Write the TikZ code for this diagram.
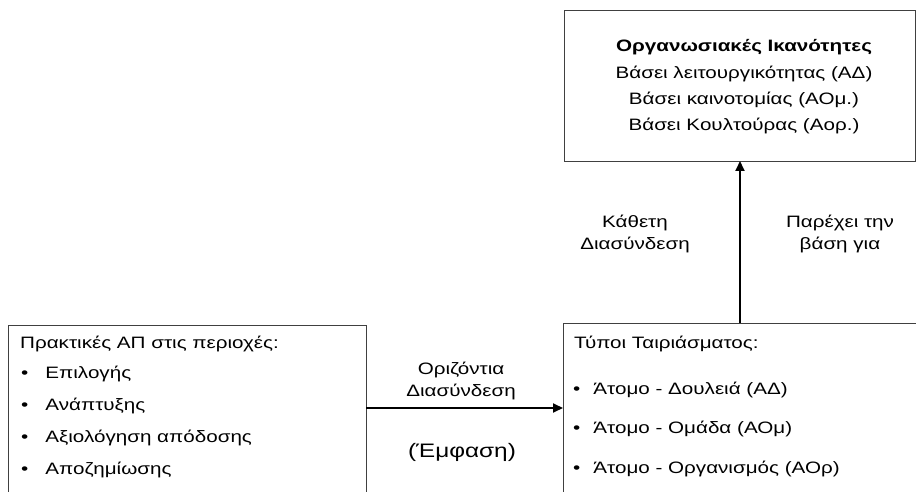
\documentclass[tikz,border=0pt]{standalone}
\usepackage{fontspec}
\setmainfont{Liberation Sans}[FakeStretch=1.25]
\usetikzlibrary{arrows.meta}
\begin{document}
\begin{tikzpicture}[x=1pt,y=-1pt,
  box/.style={draw=black!75,line width=1.2pt},
  conn/.style={line width=1.8pt,-{Triangle[length=10pt,width=9pt]}},
  txt/.style={font=\fontsize{16.5}{18}\selectfont,inner sep=0pt},
  lbl/.style={font=\fontsize{16.5}{22}\selectfont,align=center,inner sep=0pt},
  bul/.style={font=\fontsize{16.5}{18}\selectfont,inner sep=0pt,anchor=base west}]
\useasboundingbox (0,0) rectangle (916,492);
\clip (0,0) rectangle (916,492);
% top box
\node[box,minimum width=351pt,minimum height=151pt,anchor=north west,inner sep=0pt] (top) at (564,10) {};
\node[txt,align=center,font=\fontsize{16.5}{26.3}\selectfont] (toptxt) at (744,87)
 {\textbf{Οργανωσιακές Ικανότητες}\\Βάσει λειτουργικότητας (ΑΔ)\\Βάσει καινοτομίας (ΑΟμ.)\\Βάσει Κουλτούρας (Αορ.)};
% left box
\node[box,minimum width=358pt,minimum height=200pt,anchor=north west,inner sep=0pt] (left) at (8,325) {};
\node[bul] (l0) at (20,348) {Πρακτικές ΑΠ στις περιοχές:};
\node[bul] (l1) at (21,378) {•\hspace{17pt}Επιλογής};
\node[bul] (l2) at (21,410) {•\hspace{17pt}Ανάπτυξης};
\node[bul] (l3) at (21,442) {•\hspace{17pt}Αξιολόγηση απόδοσης};
\node[bul] (l4) at (21,474) {•\hspace{17pt}Αποζημίωσης};
% right box
\node[box,minimum width=355pt,minimum height=200pt,anchor=north west,inner sep=0pt] (right) at (563,323) {};
\node[bul] (r0) at (574,348) {Τύποι Ταιριάσματος:};
\node[bul] (r1) at (573,394) {•\hspace{13pt}Άτομο - Δουλειά (ΑΔ)};
\node[bul] (r2) at (573,433) {•\hspace{13pt}Άτομο - Ομάδα (ΑΟμ)};
\node[bul] (r3) at (573,473) {•\hspace{13pt}Άτομο - Οργανισμός (ΑΟρ)};
% connectors
\coordinate (hs) at (366,408);
\coordinate (he) at (563,408);
\draw[conn] (hs) -- (he);
\coordinate (vs) at (740,323);
\draw[conn] (vs) -- (740,161);
% labels
\node[lbl] (hl) at (461,381) {Οριζόντια\\Διασύνδεση};
\node[lbl,font=\fontsize{19.5}{22}\selectfont] (em) at (462,452) {(Έμφαση)};
\node[lbl] (vl1) at (635,234) {Κάθετη\\Διασύνδεση};
\node[lbl] (vl2) at (840,234) {Παρέχει την\\βάση για};
\end{tikzpicture}
\end{document}
